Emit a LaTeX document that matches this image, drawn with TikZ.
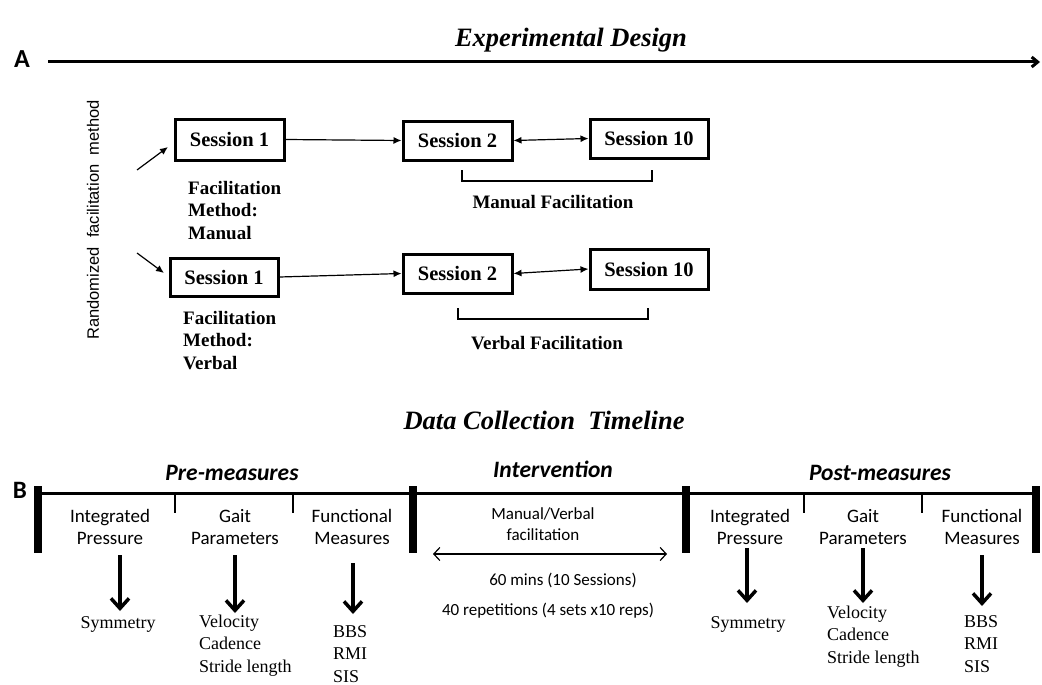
\documentclass[tikz,border=0pt]{standalone}
\usepackage{fontspec}
\setmainfont{Liberation Serif}
\newfontfamily\calib{Carlito}
\newfontfamily\arialf{Liberation Sans}
\usetikzlibrary{arrows.meta}
\begin{document}
\begin{tikzpicture}[x=1pt,y=-1pt,
  sess/.style={draw, line width=3pt, inner sep=0pt, font=\fontsize{20.5}{24}\selectfont\bfseries},
  lbl/.style={inner sep=0pt, font=\fontsize{19}{22.5}\selectfont\bfseries, align=left},
  title/.style={inner sep=0pt, font=\fontsize{26.5}{30}\selectfont\bfseries\itshape},
  head/.style={inner sep=0pt, font=\fontsize{23.5}{28}\selectfont\calib\bfseries\itshape},
  cat/.style={inner sep=0pt, font=\fontsize{19}{22}\selectfont\calib, align=center},
  res/.style={inner sep=0pt, font=\fontsize{18}{22.5}\selectfont, align=left},
  itv/.style={inner sep=0pt, font=\fontsize{17}{21}\selectfont\calib, align=center},
  letter/.style={inner sep=0pt, font=\fontsize{26}{30}\selectfont\calib\bfseries},
  conn/.style={line width=1.2pt, -{Latex[length=8pt,width=7pt]}},
  dconn/.style={line width=1.2pt, {Latex[length=8pt,width=7pt]}-{Latex[length=8pt,width=7pt]}},
  bigarrow/.style={line width=3.5pt, -{Straight Barb[length=10pt,width=18pt]}},
  brk/.style={line width=1.3pt},
  bar/.style={line width=8pt},
  tick/.style={line width=2.5pt}
]
\useasboundingbox (0,0) rectangle (1042,685);

% ---------------- Part A ----------------
\node[title, anchor=base] (tA) at (571,47) {Experimental Design};
\node[letter, anchor=base] (A) at (22,67) {A};
\coordinate (axs) at (48,62);
\coordinate (axe) at (1040,62);
\draw[line width=3pt, -{Straight Barb[length=6pt,width=10pt]}] (axs) -- (axe);

\node[inner sep=0pt, rotate=90, font=\fontsize{16.5}{20}\selectfont\arialf] (rand) at (93,220) {Randomized\ \ facilitation\ \ method};
\coordinate (r1s) at (137,170);
\coordinate (r1e) at (168,147);
\coordinate (r2s) at (137,253);
\coordinate (r2e) at (164,273);
\draw[conn] (r1s) -- (r1e);
\draw[conn] (r2s) -- (r2e);

\node[sess, minimum width=109pt, minimum height=41pt] (s1a) at (229.5,139.5) {Session 1};
\node[sess, minimum width=109pt, minimum height=39pt] (s2a) at (457.5,140.5) {Session 2};
\node[sess, minimum width=118pt, minimum height=39pt] (s10a) at (649,138.5) {Session 10};
\node[sess, minimum width=108pt, minimum height=38pt] (s1b) at (224,277) {Session 1};
\node[sess, minimum width=109pt, minimum height=39pt] (s2b) at (457.5,273.5) {Session 2};
\node[sess, minimum width=118pt, minimum height=40pt] (s10b) at (649,269) {Session 10};

\draw[conn] (s1a.east) -- (s2a.west);
\draw[dconn] (s2a.east) -- (s10a.west);
\draw[conn] (s1b.east) -- (s2b.west);
\draw[dconn] (s2b.east) -- (s10b.west);

\node[lbl, anchor=base west] (fm) at (188,239) {Facilitation\\Method:\\Manual};
\node[lbl, anchor=base west] (fv) at (183,369) {Facilitation\\Method:\\Verbal};

\draw[brk] (462,170) -- (462,181) -- (652,181) -- (652,170);
\node[lbl, anchor=base] (mf) at (553,208) {Manual Facilitation};
\draw[brk] (458,308) -- (458,319) -- (648,319) -- (648,308);
\node[lbl, anchor=base] (vf) at (547,349) {Verbal Facilitation};

% ---------------- Part B ----------------
\node[title, anchor=base] (tB) at (544,429) {Data Collection\ \ Timeline};
\node[letter, anchor=base, font=\fontsize{25}{30}\selectfont\calib\bfseries] (B) at (20,498) {B};

\draw[line width=3pt] (38,493) -- (1036,493);
\foreach \x in {38,413,686,1036} \draw[bar] (\x,486) -- (\x,553);
\foreach \x in {175,293,804,922} \draw[tick] (\x,493) -- (\x,513);

\node[head, anchor=base] (pre) at (232,480) {Pre-measures};
\node[head, anchor=base] (int) at (553,477) {Intervention};
\node[head, anchor=base] (post) at (880,480) {Post-measures};

\node[cat] (c1) at (110,527) {Integrated\\Pressure};
\node[cat] (c2) at (235,527) {Gait\\Parameters};
\node[cat] (c3) at (352,527) {Functional\\Measures};
\node[cat] (c4) at (750,527) {Integrated\\Pressure};
\node[cat] (c5) at (863,527) {Gait\\Parameters};
\node[cat] (c6) at (982,527) {Functional\\Measures};

\coordinate (a1s) at (120,555); \coordinate (a1e) at (120,611);
\coordinate (a2s) at (235,555); \coordinate (a2e) at (235,613);
\coordinate (a3s) at (353,563); \coordinate (a3e) at (353,614);
\coordinate (a4s) at (747,548); \coordinate (a4e) at (747,603);
\coordinate (a5s) at (863,548); \coordinate (a5e) at (863,603);
\coordinate (a6s) at (982,555); \coordinate (a6e) at (982,606);
\foreach \i in {1,...,6} \draw[bigarrow] (a\i s) -- (a\i e);

\node[res, anchor=base] (r1) at (118,628) {Symmetry};
\node[res, anchor=base west] (r2) at (199,672) {Velocity\\Cadence\\Stride length};
\node[res, anchor=base west] (r3) at (333,682) {BBS\\RMI\\SIS};
\node[res, anchor=base] (r4) at (748,628) {Symmetry};
\node[res, anchor=base west] (r5) at (827,663) {Velocity\\Cadence\\Stride length};
\node[res, anchor=base west] (r6) at (964,672) {BBS\\RMI\\SIS};

\node[itv, anchor=base] (mv) at (543,540) {Manual/Verbal\\facilitation};
\coordinate (ds) at (433,554);
\coordinate (de) at (667,554);
\draw[line width=1.2pt, {Straight Barb[length=6pt,width=13pt]}-{Straight Barb[length=6pt,width=13pt]}] (ds) -- (de);
\node[itv, anchor=base] (m60) at (563,585) {60 mins (10 Sessions)};
\node[itv, anchor=base] (m40) at (548,615) {40 repetitions (4 sets x10 reps)};
\end{tikzpicture}
\end{document}
